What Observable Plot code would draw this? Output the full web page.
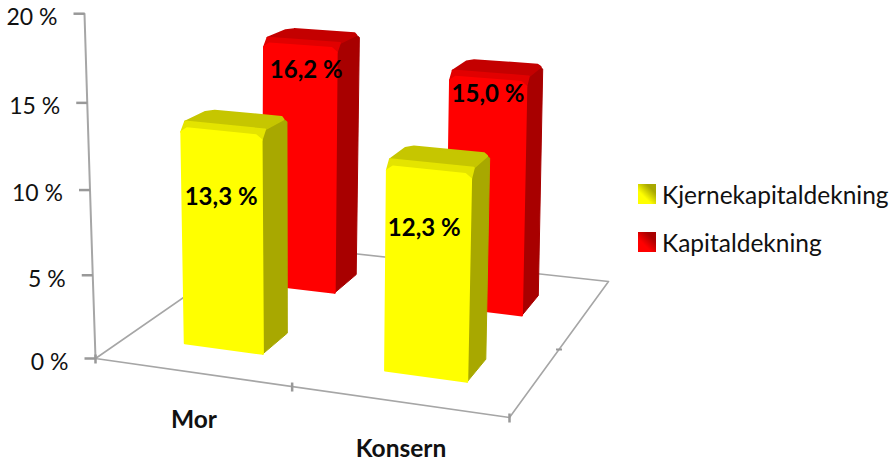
<!DOCTYPE html>
<html lang="no">
<head>
<meta charset="utf-8">
<script src="https://cdn.jsdelivr.net/npm/d3@7"></script>
<script src="https://cdn.jsdelivr.net/npm/@observablehq/plot@0.6"></script>
<style>
  html, body { margin: 0; padding: 0; background: #fff; }
  #chart { position: relative; width: 889px; height: 462px; overflow: hidden; font-family: Lato, sans-serif; }
  .legend-row { position: absolute; left: 638px; display: flex; align-items: center; font-size: 24.5px; color: #111; white-space: nowrap; height: 24px; }
  .swatch { width: 18px; height: 20px; margin-right: 6px; }
</style>
</head>
<body>
<div id="chart"></div>
<script>
// Chart values
const categories = ["Mor", "Konsern"];
const seriesNames = ["Kjernekapitaldekning", "Kapitaldekning"];
const kjernekapital = [13.3, 12.3];
const kapital = [16.2, 15.0];
const yTicks = [0, 5, 10, 15, 20];

// Perspective of the floor: its corners on the page
const floor = { fl: [95, 358], fr: [509, 417], br: [608, 281], bl: [261, 243] };

// (u, v) on the floor, u along the categories, v into the depth; h is the value in percent
function project(u, v, h = 0) {
  const w = (a, b, c, d) => (1 - u) * (1 - v) * a + u * (1 - v) * b + u * v * c + (1 - u) * v * d;
  const px = w(floor.fl[0], floor.fr[0], floor.br[0], floor.bl[0]);
  const py = w(floor.fl[1], floor.fr[1], floor.br[1], floor.bl[1]);
  const unit = 16.45 + u - 2.9 * v;
  const lean = -0.55 + 1.05 * u + 0.8 * v - u * v;
  return { x: px + lean * h, y: py - unit * h * (1 + 0.0024 * h) };
}

const categoryBands = [[0.14, 0.335], [0.64, 0.845]];
const looks = [
  { depth: [0.2, 0.37], front: "#ffff00", side: "#a8a800", top: "#c6c600", rim: "#e4e400", labelAt: [0.69, 0.71], labelShift: [-1, -4], values: kjernekapital },
  { depth: [0.7, 0.85], front: "#ff0000", side: "#a80000", top: "#c40000", rim: "#e20000", labelAt: [0.89, 0.92], labelShift: [6, 0], values: kapital }
];

const polygon = (points, color, strokeWidth = 1) =>
  Plot.line([...points, points[0]], { x: "x", y: "y", fill: color, stroke: color, strokeWidth, strokeLinejoin: "round", curve: "linear" });

function barMarks(look, i) {
  const [u0, u1] = categoryBands[i];
  const [v0, v1] = look.depth;
  const h = look.values[i];
  const du = (u1 - u0) * 0.07;
  const dv = (v1 - v0) * 0.14;
  const bevel = 0.25; // height of the rounded shoulder, in percent
  return [
    // side wall with a softened shoulder at the back
    polygon([project(u1, v0, 0), project(u1, v1, 0), project(u1, v1, h - bevel), project(u1, v1 - dv, h), project(u1, v0 + dv, h), project(u1, v0, h - 2 * bevel)], look.side),
    // top face with all four corners cut
    polygon([project(u0, v0 + dv, h), project(u0 + du, v0, h), project(u1 - du, v0, h), project(u1, v0 + dv, h), project(u1, v1 - dv, h), project(u1 - du, v1, h), project(u0 + du, v1, h), project(u0, v1 - dv, h)], look.top, 2),
    // lighter rim where the top rolls over into the front
    polygon([project(u0, v0, h - 2 * bevel), project(u0 + du, v0, h - bevel), project(u1 - du, v0, h - bevel), project(u1, v0, h - 2 * bevel), project(u1, v0 + dv, h), project(u0, v0 + dv, h)], look.rim, 2),
    // front face with rounded upper corners
    polygon([project(u0, v0, 0), project(u1, v0, 0), project(u1, v0, h - 2 * bevel), project(u1 - du, v0, h - bevel), project(u0 + du, v0, h - bevel), project(u0, v0, h - 2 * bevel)], look.front, 2)
  ];
}

// Bars are painted from the back of the floor forwards
const bars = [1, 0].flatMap((s) => categories.flatMap((_, i) => barMarks(looks[s], i)));

const valueLabels = looks.flatMap((look, s) =>
  categories.map((_, i) => {
    const uMid = (categoryBands[i][0] + categoryBands[i][1]) / 2;
    const p = project(uMid, look.depth[0], look.values[i] * look.labelAt[i]);
    return { x: p.x + look.labelShift[i], y: p.y, text: look.values[i].toFixed(1).replace(".", ",") + " %" };
  })
);

const gridColor = "#a6a6a6";
const tickData = yTicks.map((t) => ({ ...project(0, 0, t), t }));
const floorEdge = (points) => Plot.line(points, { x: "x", y: "y", stroke: gridColor, strokeWidth: 1.6 });
const groundTicks = [[0, 0], [0.475, 0], [1, 0]].map(([u, v]) => project(u, v));
const depthTicks = [project(1, 0.5)];

const plot = Plot.plot({
  width: 889,
  height: 462,
  margin: 0,
  x: { domain: [0, 889], range: [0, 889], axis: null },
  y: { domain: [0, 462], range: [0, 462], axis: null },
  marks: [
    floorEdge([project(0, 0), project(1, 0), project(1, 1), project(0, 1), project(0, 0)]),
    Plot.line(tickData, { x: "x", y: "y", stroke: gridColor, strokeWidth: 2 }),
    Plot.link(tickData, { x1: (d) => d.x - 11, x2: "x", y1: "y", y2: "y", stroke: "#999", strokeWidth: 2.5 }),
    Plot.link(groundTicks, { x1: "x", x2: "x", y1: (d) => d.y - 4, y2: (d) => d.y + 5, stroke: "#999", strokeWidth: 2.5 }),
    Plot.link(depthTicks, { x1: (d) => d.x - 3, x2: (d) => d.x + 3, y1: "y", y2: "y", stroke: "#999", strokeWidth: 2 }),
    ...bars,
    Plot.text(tickData, { x: (d) => d.x - 27, y: "y", dy: 4, text: (d) => `${d.t} %`, textAnchor: "end", fontSize: 23, fill: "#111", fontFamily: "Lato" }),
    Plot.text(valueLabels, { x: "x", y: "y", text: "text", fontSize: 24, fontWeight: 700, fill: "#000", fontFamily: "Lato" }),
    Plot.text(categories, {
      x: (_, i) => project(i ? 0.75 : 0.25, 0).x - 5,
      y: (_, i) => project(i ? 0.75 : 0.25, 0).y,
      dy: 46.5,
      text: (d) => d,
      fontSize: 24.5,
      fontWeight: 700,
      fill: "#111",
      fontFamily: "Lato"
    })
  ]
});

const chart = document.getElementById("chart");
chart.append(plot);

// Legend sits to the right of the plot area
const legendTop = [182, 230];
seriesNames.forEach((name, s) => {
  const row = document.createElement("div");
  row.className = "legend-row";
  row.style.top = legendTop[s] + "px";
  const swatch = document.createElement("span");
  swatch.className = "swatch";
  swatch.style.background = `linear-gradient(45deg, ${looks[s].front} 35%, ${looks[s].side} 75%)`;
  row.append(swatch, document.createTextNode(name));
  chart.append(row);
});
</script>
</body>
</html>
